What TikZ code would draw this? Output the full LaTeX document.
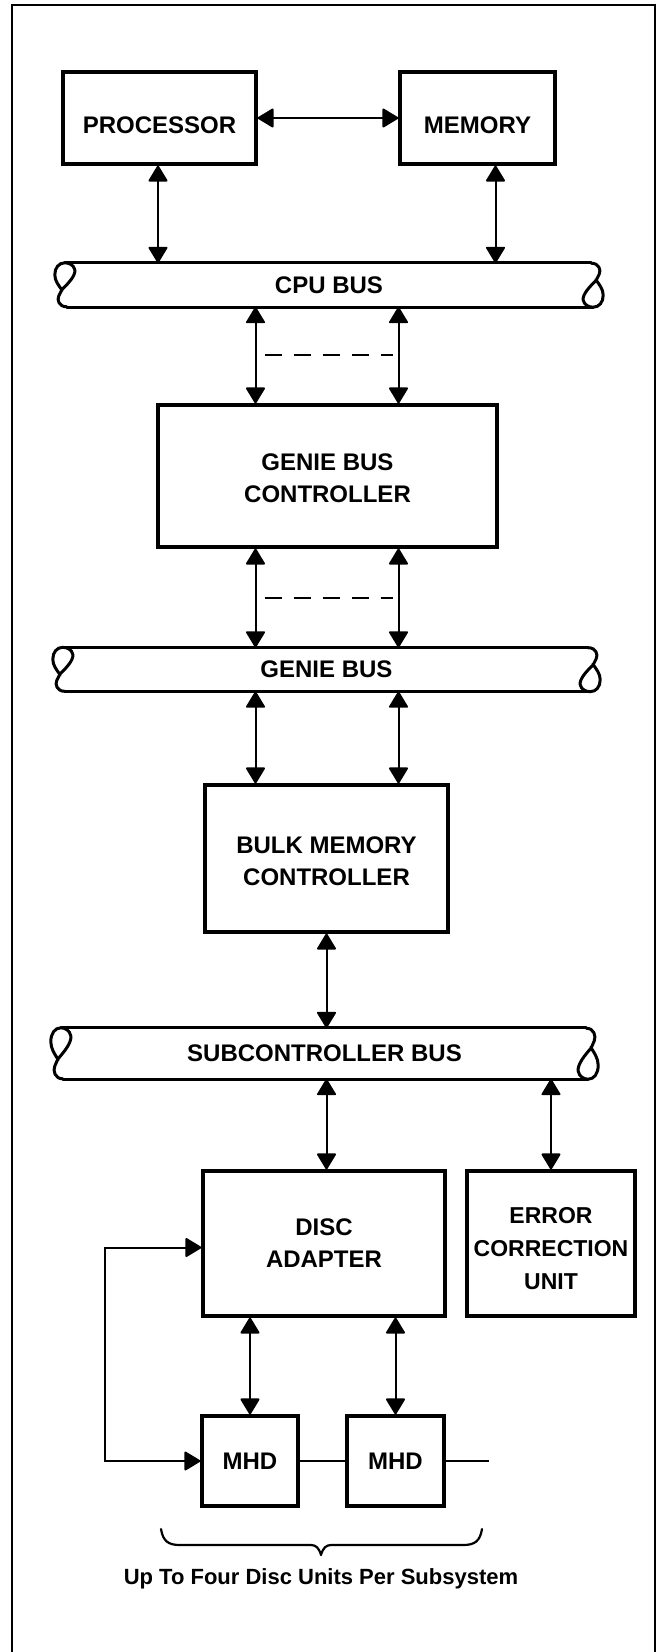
\documentclass[tikz,border=0pt]{standalone}
\usepackage{fontspec}
\setmainfont{Liberation Sans}
\usetikzlibrary{arrows.meta,calc}

\tikzset{
  pipecap/.pic={
    \draw[line width=3pt, line cap=round, line join=round]
      (12,44) .. controls (4,44) and (2,37) .. (4,33)
      .. controls (5,31) and (6,29) .. (7,27)
      .. controls (13,21) and (21,13) .. (20,7)
      .. controls (19,2) and (14,0) .. (10,0)
      .. controls (4,0) and (0,5) .. (0,12)
      .. controls (0,18) and (4,23) .. (7.5,27.5);
  }
}

\begin{document}
\begin{tikzpicture}[x=1pt,y=-1pt,
  every node/.style={font=\bfseries\fontsize{24}{32}\selectfont},
  unit/.style={draw, line width=3.2pt, inner sep=0pt, align=center},
  boxtext/.style={inner sep=0pt, align=center},
  pipe/.style={inner sep=0pt, minimum height=44pt},
  pipeline/.style={line width=3pt, line cap=round},
  tip/.tip={Triangle[length=17pt,width=20pt,round]},
  arr/.style={line width=2pt, tip-tip},
  link/.style={line width=2pt},
  dashlink/.style={line width=2.2pt, dash pattern=on 17pt off 12pt},
  frame/.style={line width=2.5pt}
]
\useasboundingbox (0,0) rectangle (658,1652);

% outer frame
\draw[frame] (12,1652) -- (12,5) -- (655,5) -- (655,1652);

% units
\node[unit, minimum width=193pt, minimum height=92pt, text height=31pt] (proc) at (159.5,118) {PROCESSOR};
\node[unit, minimum width=155pt, minimum height=92pt, text height=31pt] (mem) at (477.5,118) {MEMORY};
\node[unit, minimum width=339pt, minimum height=142pt] (gbc) at (327.5,476) {};
\node[boxtext] (gbctext) at ([yshift=-2pt]gbc.center) {GENIE BUS\\CONTROLLER};
\node[unit, minimum width=243pt, minimum height=147pt] (bmc) at (326.5,858.5) {};
\node[boxtext] (bmctext) at ([yshift=-3pt]bmc.center) {BULK MEMORY\\CONTROLLER};
\node[unit, minimum width=242pt, minimum height=145pt] (da) at (324,1243.5) {DISC\\ADAPTER};
\node[unit, minimum width=168pt, minimum height=145pt] (ecu) at (551,1243.5) {};
\node[boxtext, font=\bfseries\fontsize{23}{33}\selectfont] (ecutext) at ([yshift=-5pt]ecu.center) {ERROR\\CORRECTION\\UNIT};
\node[unit, minimum width=96pt, minimum height=90pt] (mhd1) at (250,1461) {MHD};
\node[unit, minimum width=97pt, minimum height=90pt] (mhd2) at (395.5,1461) {MHD};

% buses
\node[pipe, minimum width=548pt] (cpubus) at (329,285) {CPU BUS};
\node[pipe, minimum width=547pt] (genie) at (326.5,669.5) {GENIE BUS};
\node[pipe, minimum width=547pt, minimum height=51pt] (subbus) at (324.5,1053.5) {SUBCONTROLLER BUS};

\foreach \b/\s in {cpubus/1, genie/1, subbus/1.159} {
  \draw[pipeline] ([xshift=10pt]\b.north west) -- ([xshift=-12pt]\b.north east);
  \draw[pipeline] ([xshift=12pt]\b.south west) -- ([xshift=-10pt]\b.south east);
  \pic[yscale=\s] at (\b.north west) {pipecap};
  \pic[rotate=180, yscale=\s] at (\b.south east) {pipecap};
}

% processor / memory / CPU bus
\draw[arr] (proc.east) -- (mem.west);
\draw[arr] ([xshift=-1.5pt]proc.south) -- ([xshift=-1.5pt]proc.south |- cpubus.north);
\draw[arr] ([xshift=18pt]mem.south) -- ([xshift=18pt]mem.south |- cpubus.north);

% CPU bus / genie bus controller
\draw[arr] ([xshift=-72pt]gbc.north |- cpubus.south) -- ([xshift=-72pt]gbc.north);
\draw[arr] ([xshift=71pt]gbc.north |- cpubus.south) -- ([xshift=71pt]gbc.north);
\draw[dashlink] ($([xshift=-63pt]gbc.north)!0.5!([xshift=-63pt]gbc.north |- cpubus.south)$) -- ++(128,0);

% genie bus controller / genie bus
\draw[arr] ([xshift=-72pt]gbc.south) -- ([xshift=-72pt]gbc.south |- genie.north);
\draw[arr] ([xshift=71pt]gbc.south) -- ([xshift=71pt]gbc.south |- genie.north);
\draw[dashlink] ($([xshift=-63pt]gbc.south)!0.5!([xshift=-63pt]gbc.south |- genie.north)$) -- ++(128,0);

% genie bus / bulk memory controller
\draw[arr] ([xshift=-72pt]gbc.south |- genie.south) -- ([xshift=-72pt]gbc.south |- bmc.north);
\draw[arr] ([xshift=71pt]gbc.south |- genie.south) -- ([xshift=71pt]gbc.south |- bmc.north);

% bulk memory controller / subcontroller bus
\draw[arr] (bmc.south) -- (bmc.south |- subbus.north);
\draw[arr] (bmc.south |- subbus.south) -- (bmc.south |- da.north);
\draw[arr] (ecu.north |- subbus.south) -- (ecu.north);

% disc adapter / disc units
\draw[arr] (mhd1.north |- da.south) -- (mhd1.north);
\draw[arr] (mhd2.north |- da.south) -- (mhd2.north);
\coordinate (loopx) at (105,0);
\draw[arr] ([yshift=-4pt]da.west) -| (loopx |- mhd1.west) -- (mhd1.west);
\draw[link] (mhd1.east) -- (mhd2.west);
\coordinate (mhdend) at ($(mhd2.east)+(43,0)$);
\draw[link] (mhd2.east) -- (mhdend);

% brace under the disc units
\draw[line width=2.2pt, line cap=round, line join=round]
  (161,1529) .. controls (163,1541) and (168,1545) .. (180,1545) -- (311,1545)
  .. controls (316,1545) and (319,1548) .. (321,1555)
  .. controls (323,1548) and (326,1545) .. (331,1545) -- (463,1545)
  .. controls (475,1545) and (480,1541) .. (482,1529);
\node[font=\bfseries\fontsize{22}{26}\selectfont] (caption) at (321,1579) {Up To Four Disc Units Per Subsystem};
\end{tikzpicture}
\end{document}
